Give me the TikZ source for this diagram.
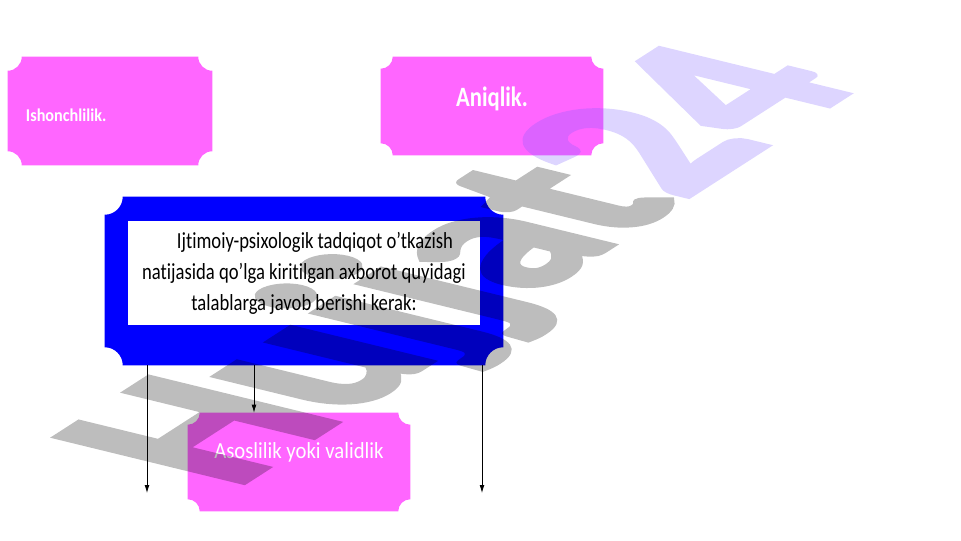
\documentclass[tikz,border=0pt]{standalone}
\usepackage{fontspec}
\usetikzlibrary{arrows.meta,backgrounds}
\newfontfamily\narrowfont[FakeStretch=0.81,Ligatures=NoCommon]{Carlito}
\newfontfamily\labelfont[FakeStretch=0.9,Ligatures=NoCommon]{Carlito}
\newfontfamily\markfont[FakeBold=3]{Carlito}
\definecolor{boxpink}{RGB}{255,102,255}
\definecolor{boxblue}{RGB}{0,0,255}
\definecolor{marklav}{rgb}{0.48,0.36,1}
\newcommand{\scoopfill}[3]{%
  \fill[#2] ([xshift=#3]#1.south west) -- ([xshift=-#3]#1.south east)
    arc[start angle=180,end angle=90,radius=#3] -- ([yshift=-#3]#1.north east)
    arc[start angle=270,end angle=180,radius=#3] -- ([xshift=#3]#1.north west)
    arc[start angle=0,end angle=-90,radius=#3] -- ([yshift=#3]#1.south west)
    arc[start angle=90,end angle=0,radius=#3] -- cycle;}
\begin{document}
\begin{tikzpicture}[x=0.75pt,y=-0.75pt,
  box/.style={inner sep=0pt},
  pinklabel/.style={text=white,inner sep=0pt},
  arr/.style={-{Latex[length=6pt,width=3.6pt]},line width=0.6pt}]
\useasboundingbox (0,0) rectangle (961,540);
\node[box,minimum width=153pt,minimum height=81pt,
  label={[pinklabel,anchor=west,xshift=13.5pt,yshift=-3pt,font=\labelfont\bfseries\fontsize{13.5}{16}\selectfont]west:Ishonchlilik.}] (ishon) at (110,111) {};
\node[box,minimum width=166.5pt,minimum height=73.5pt,
  label={[pinklabel,yshift=5.25pt,font=\narrowfont\bfseries\fontsize{21}{25}\selectfont]center:Aniqlik.}] (aniq) at (492,106) {};
\node[box,minimum width=298.5pt,minimum height=126pt] (ijt) at (304,281) {};
\node[fill=white,minimum width=264pt,minimum height=78pt,inner sep=0pt,align=center,
  font=\narrowfont\fontsize{17.25}{23.25}\selectfont] (ijt-t) at (304,273)
  {\hspace*{16.5pt}Ijtimoiy-psixologik tadqiqot o’tkazish\\natijasida qo’lga kiritilgan axborot quyidagi\\talablarga javob berishi kerak:};
\node[box,minimum width=166.5pt,minimum height=73.5pt,
  label={[pinklabel,yshift=7.5pt,font=\labelfont\fontsize{17.25}{20}\selectfont]center:Asoslilik yoki validlik}] (asos) at (299,462) {};
\coordinate (endL) at (147,493);
\coordinate (midx) at (254,0);
\coordinate (endR) at (482,493);
\draw[arr] (ijt.south -| endL) -- (endL);
\draw[arr] (ijt.south -| midx) -- (asos.north -| midx);
\draw[arr] (ijt.south -| endR) -- (endR);
\begin{scope}[on background layer]
\scoopfill{ishon}{boxpink}{10.5pt}
\scoopfill{aniq}{boxpink}{9pt}
\scoopfill{ijt}{boxblue}{13.5pt}
\scoopfill{asos}{boxpink}{9pt}
\end{scope}
\begin{scope}[transparency group,opacity=0.26]
\begin{scope}[cm={1.340,0.8625,-2.1525,0.525,(233,489)}]
\node[transform shape,anchor=base west,inner sep=0pt,opacity=1,text opacity=1,
  font=\markfont\bfseries\fontsize{100}{100}\selectfont] (mark) at (0,0)
  {\color{black}Hujjat\color{marklav}24};
\end{scope}
\end{scope}
\end{tikzpicture}
\end{document}
